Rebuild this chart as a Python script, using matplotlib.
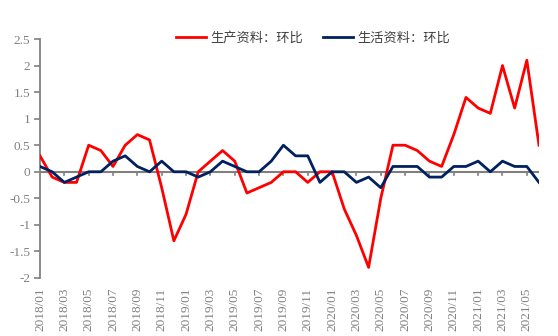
import matplotlib
matplotlib.use("Agg")
import matplotlib.pyplot as plt
import numpy as np

# Monthly series, 2018/01 - 2021/06
months = [f"{y}/{m:02d}" for y in range(2018, 2022) for m in range(1, 13)][:42]

production_mom = [0.3, -0.1, -0.2, -0.2, 0.5, 0.4, 0.1, 0.5, 0.7, 0.6,
                  -0.3, -1.3, -0.8, 0.0, 0.2, 0.4, 0.2, -0.4, -0.3, -0.2,
                  0.0, 0.0, -0.2, 0.0, 0.0, -0.7, -1.2, -1.8, -0.5, 0.5,
                  0.5, 0.4, 0.2, 0.1, 0.7, 1.4, 1.2, 1.1, 2.0, 1.2,
                  2.1, 0.5]
consumer_mom = [0.1, 0.0, -0.2, -0.1, 0.0, 0.0, 0.2, 0.3, 0.1, 0.0,
                0.2, 0.0, 0.0, -0.1, 0.0, 0.2, 0.1, 0.0, 0.0, 0.2,
                0.5, 0.3, 0.3, -0.2, 0.0, 0.0, -0.2, -0.1, -0.3, 0.1,
                0.1, 0.1, -0.1, -0.1, 0.1, 0.1, 0.2, 0.0, 0.2, 0.1,
                0.1, -0.2]

label_prod = "生产资料：环比"
label_cons = "生活资料：环比"

plt.rcParams['font.family'] = ['Liberation Serif', 'Noto Sans CJK SC', 'DejaVu Sans']

fig = plt.figure(figsize=(5.58, 3.36), dpi=100)
ax = fig.add_axes([40 / 558, 1 - 278 / 336, 499 / 558, (278 - 39) / 336])

x = np.arange(len(months))
ax.plot(x, production_mom, color="#FF0000", lw=2.0, label=label_prod, zorder=3)
ax.plot(x, consumer_mom, color="#002060", lw=2.0, label=label_cons, zorder=3)

gray = "#808080"
ax.set_xlim(0, len(months) - 1)
ax.set_ylim(-2, 2.5)
ax.set_yticks(np.arange(-2, 2.51, 0.5))
ax.set_yticklabels([f"{v:g}" for v in np.arange(-2, 2.51, 0.5)])

for side in ["top", "right", "bottom"]:
    ax.spines[side].set_visible(False)
ax.spines["left"].set_color(gray)
ax.spines["left"].set_linewidth(1.3)

# zero line acting as the category axis, with ticks every two months
ax.axhline(0, color=gray, lw=1.5, zorder=2)
tick_idx = x[::2]
for t in tick_idx[1:]:
    ax.plot([t, t], [0, -0.07], color=gray, lw=1.2, zorder=2, clip_on=False)

ax.set_xticks(tick_idx)
ax.set_xticklabels([months[i] for i in tick_idx], rotation=90)
ax.tick_params(axis="x", length=0, pad=7, labelsize=9.5, labelcolor=gray)
ax.tick_params(axis="y", direction="out", length=4, width=1.2, color=gray,
               labelsize=9.5, labelcolor=gray, pad=3)

leg = ax.legend(loc="center", bbox_to_anchor=(313 / 558, 1 - 38 / 336),
                bbox_transform=fig.transFigure, ncol=2, frameon=False,
                handlelength=2.3, handletextpad=0.3, columnspacing=1.5,
                prop={"family": ["Noto Sans CJK SC"], "size": 9.5})
for t in leg.get_texts():
    t.set_color("#404040")

fig.savefig("out.png", dpi=100)
